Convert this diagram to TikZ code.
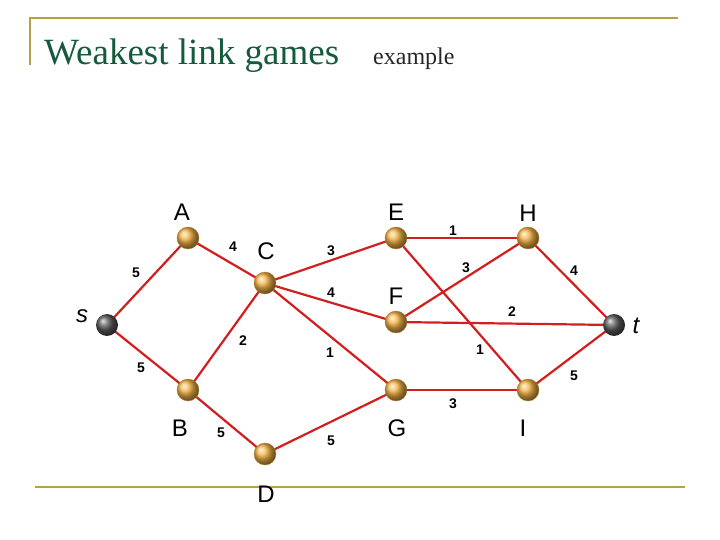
\documentclass[tikz,border=0pt]{standalone}
\usepackage{fontspec}
\setmainfont{Liberation Serif}
\newfontfamily\arial{Liberation Sans}
\definecolor{gold}{RGB}{184,160,70}
\definecolor{tgreen}{RGB}{20,90,60}
\definecolor{edge}{RGB}{210,30,30}
\definecolor{ball}{RGB}{245,180,70}
\begin{document}
\begin{tikzpicture}[x=1pt,y=-1pt,
  ball/.style={circle,minimum size=22pt,inner sep=0pt,draw=ball!70!black,line width=0.4pt,ball color=ball},
  gball/.style={circle,minimum size=22pt,inner sep=0pt,ball color=gray!70!black},
  lab/.style={font=\arial\fontsize{24}{24}\selectfont},
  w/.style={font=\arial\bfseries\fontsize{14}{14}\selectfont},
  ed/.style={draw=edge,line width=2.2pt}]
\useasboundingbox (0,0) rectangle (720,540);
\draw[gold,line width=2pt] (30,65) -- (30,18) -- (678,18);
\draw[gold,line width=2pt] (35,487) -- (685,487);
\node[anchor=base west,inner sep=0pt,text=tgreen,font=\fontsize{37}{37}\selectfont] (title) at (44,65) {Weakest link games};
\node[anchor=base west,inner sep=0pt,text=black!85,font=\fontsize{24}{24}\selectfont] (sub) at (373,65) {example};
\coordinate (ps) at (107,325);
\coordinate (pA) at (188,238);
\coordinate (pC) at (265,283);
\coordinate (pE) at (396,238);
\coordinate (pH) at (528,238);
\coordinate (pF) at (396,322);
\coordinate (pt) at (614,325);
\coordinate (pB) at (188,390);
\coordinate (pD) at (265,454);
\coordinate (pG) at (396,390);
\coordinate (pI) at (528,390);
\draw[ed] (ps) -- (pA); \draw[ed] (ps) -- (pB);
\draw[ed] (pA) -- (pC); \draw[ed] (pB) -- (pC);
\draw[ed] (pC) -- (pE); \draw[ed] (pC) -- (pF); \draw[ed] (pC) -- (pG);
\draw[ed] (pB) -- (pD); \draw[ed] (pD) -- (pG);
\draw[ed] (pE) -- (pH); \draw[ed] (pE) -- (pI); \draw[ed] (pF) -- (pH);
\draw[ed] (pF) -- (pt); \draw[ed] (pG) -- (pI);
\draw[ed] (pH) -- (pt); \draw[ed] (pI) -- (pt);
\foreach \n in {A,C,E,H,F,B,D,G,I} {\node[ball] (\n) at (p\n) {};}
\node[gball] (s) at (ps) {};
\node[gball] (t) at (pt) {};
\node[lab] (lA) at (182,212) {A};
\node[lab] (lC) at (266,251) {C};
\node[lab] (lE) at (396,212) {E};
\node[lab] (lH) at (528,213) {H};
\node[lab] (lF) at (396,296) {F};
\node[lab] (lB) at (180,428) {B};
\node[lab] (lD) at (266,494) {D};
\node[lab] (lG) at (397,428) {G};
\node[lab] (lI) at (523,428) {I};
\node[lab,font=\arial\itshape\fontsize{24}{24}\selectfont] (ls) at (82,316) {s};
\node[lab,font=\arial\itshape\fontsize{24}{24}\selectfont] (lt) at (636,326) {t};
\node[w] at (136,273) {5};
\node[w] at (141,368) {5};
\node[w] at (233,247) {4};
\node[w] at (243,341) {2};
\node[w] at (331,251) {3};
\node[w] at (331,293) {4};
\node[w] at (330,353) {1};
\node[w] at (221,433) {5};
\node[w] at (331,441) {5};
\node[w] at (453,231) {1};
\node[w] at (466,268) {3};
\node[w] at (512,312) {2};
\node[w] at (480,350) {1};
\node[w] at (574,271) {4};
\node[w] at (574,376) {5};
\node[w] at (453,404) {3};
\end{tikzpicture}
\end{document}
